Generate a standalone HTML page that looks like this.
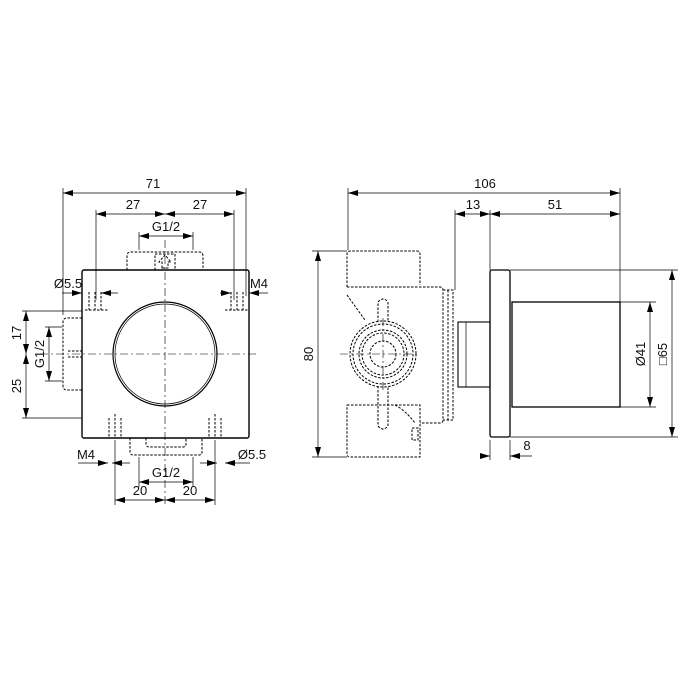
<!DOCTYPE html>
<html><head><meta charset="utf-8"><style>
html,body{margin:0;padding:0;background:#fff;}
svg{display:block}
text{font-family:"Liberation Sans",sans-serif;font-size:13px;fill:#111}
</style></head><body>
<svg width="700" height="700" viewBox="0 0 700 700" xmlns="http://www.w3.org/2000/svg">
<defs>
<marker id="a" viewBox="0 0 10 6" refX="10" refY="3" markerWidth="10" markerHeight="6" orient="auto-start-reverse" markerUnits="userSpaceOnUse"><path d="M0,0L10,3L0,6z" fill="#000"/></marker>
</defs>
<g stroke="#000" fill="none">
<g stroke-width="0.7">
<line x1="63" y1="188" x2="63" y2="315"/>
<line x1="246" y1="188" x2="246" y2="296"/>
<line x1="96" y1="210" x2="96" y2="300"/>
<line x1="234" y1="210" x2="234" y2="300"/>
<line x1="139" y1="232" x2="139" y2="250"/>
<line x1="193" y1="232" x2="193" y2="250"/>
<line x1="22" y1="311" x2="82" y2="311"/>
<line x1="22" y1="418" x2="82" y2="418"/>
<line x1="45" y1="327" x2="62" y2="327"/>
<line x1="45" y1="381" x2="62" y2="381"/>
<line x1="115" y1="440" x2="115" y2="505"/>
<line x1="215" y1="440" x2="215" y2="505"/>
<line x1="139" y1="457" x2="139" y2="487"/>
<line x1="193" y1="457" x2="193" y2="487"/>
<line x1="63" y1="193" x2="246" y2="193" marker-start="url(#a)" marker-end="url(#a)"/>
<line x1="96" y1="214" x2="165" y2="214" marker-start="url(#a)" marker-end="url(#a)"/>
<line x1="165" y1="214" x2="234" y2="214" marker-start="url(#a)" marker-end="url(#a)"/>
<line x1="139" y1="236" x2="193" y2="236" marker-start="url(#a)" marker-end="url(#a)"/>
<line x1="26" y1="311" x2="26" y2="354" marker-start="url(#a)" marker-end="url(#a)"/>
<line x1="26" y1="354" x2="26" y2="418" marker-start="url(#a)" marker-end="url(#a)"/>
<line x1="49" y1="327" x2="49" y2="381" marker-start="url(#a)" marker-end="url(#a)"/>
<line x1="139" y1="482" x2="193" y2="482" marker-start="url(#a)" marker-end="url(#a)"/>
<line x1="115" y1="500" x2="165" y2="500" marker-start="url(#a)" marker-end="url(#a)"/>
<line x1="165" y1="500" x2="215" y2="500" marker-start="url(#a)" marker-end="url(#a)"/>
<line x1="62" y1="293" x2="82" y2="293" marker-end="url(#a)"/>
<line x1="118" y1="293" x2="101" y2="293" marker-end="url(#a)"/>
<line x1="220" y1="293" x2="231" y2="293" marker-end="url(#a)"/>
<line x1="268" y1="293" x2="249" y2="293" marker-end="url(#a)"/>
<line x1="78" y1="463" x2="108" y2="463" marker-end="url(#a)"/>
<line x1="130" y1="463" x2="112" y2="463" marker-end="url(#a)"/>
<line x1="200" y1="463" x2="217" y2="463" marker-end="url(#a)"/>
<line x1="250" y1="463" x2="225" y2="463" marker-end="url(#a)"/>
</g>
<g stroke-width="0.6" stroke-dasharray="8,3,2,3">
<line x1="165" y1="240" x2="165" y2="505"/>
<line x1="40" y1="354" x2="258" y2="354"/>
</g>
<g stroke-width="1" stroke-dasharray="2.5,1.5">
<line x1="89" y1="292" x2="89" y2="310"/><line x1="95" y1="292" x2="95" y2="310"/><line x1="101" y1="292" x2="101" y2="310"/>
<line x1="231" y1="292" x2="231" y2="310"/><line x1="237" y1="292" x2="237" y2="310"/><line x1="243" y1="292" x2="243" y2="310"/>
<line x1="109" y1="418" x2="109" y2="438"/><line x1="115" y1="414" x2="115" y2="438"/><line x1="121" y1="418" x2="121" y2="438"/>
<line x1="209" y1="418" x2="209" y2="438"/><line x1="215" y1="414" x2="215" y2="438"/><line x1="221" y1="418" x2="221" y2="438"/>
<line x1="85" y1="310" x2="108" y2="310"/><line x1="225" y1="310" x2="248" y2="310"/>
<path d="M127,270V256q0-4 4-4h68q4 0 4 4v14"/>
<path d="M155,270V254h20v16"/>
<path d="M162,268v-6h-3l6-7l6,7h-3v6z"/>
<path d="M82,318H67q-4 0-4 4v64q0 4 4 4h15"/>
<line x1="68" y1="351" x2="82" y2="351"/><line x1="68" y1="357" x2="82" y2="357"/>
<path d="M130,438v14q0 3 3 3h66q3 0 3-3v-14"/>
<path d="M146,438v6q0 3 3 3h34q3 0 3-3v-6"/>
</g>
<rect x="82" y="270" width="167" height="168" rx="2" stroke-width="1.4"/>
<circle cx="165" cy="354" r="52" stroke-width="1.2"/>
<circle cx="165" cy="354" r="50" stroke-width="0.7"/>

<g stroke-width="0.7">
<line x1="348" y1="188" x2="348" y2="250"/>
<line x1="620" y1="188" x2="620" y2="302"/>
<line x1="455" y1="210" x2="455" y2="290"/>
<line x1="490" y1="210" x2="490" y2="270"/>
<line x1="312" y1="251" x2="347" y2="251"/>
<line x1="312" y1="457" x2="347" y2="457"/>
<line x1="620" y1="302" x2="656" y2="302"/>
<line x1="620" y1="407" x2="656" y2="407"/>
<line x1="510" y1="270" x2="678" y2="270"/>
<line x1="510" y1="437" x2="678" y2="437"/>
<line x1="490" y1="440" x2="490" y2="460"/>
<line x1="510" y1="440" x2="510" y2="460"/>
<line x1="348" y1="193" x2="620" y2="193" marker-start="url(#a)" marker-end="url(#a)"/>
<line x1="455" y1="214" x2="490" y2="214" marker-start="url(#a)" marker-end="url(#a)"/>
<line x1="490" y1="214" x2="620" y2="214" marker-start="url(#a)" marker-end="url(#a)"/>
<line x1="318" y1="251" x2="318" y2="457" marker-start="url(#a)" marker-end="url(#a)"/>
<line x1="650" y1="302" x2="650" y2="407" marker-start="url(#a)" marker-end="url(#a)"/>
<line x1="672" y1="270" x2="672" y2="437" marker-start="url(#a)" marker-end="url(#a)"/>
<line x1="480" y1="456" x2="490" y2="456" marker-end="url(#a)"/>
<line x1="532" y1="456" x2="510" y2="456" marker-end="url(#a)"/>
</g>
<g stroke-width="0.6" stroke-dasharray="8,3,2,3">
<line x1="340" y1="354" x2="420" y2="354"/>
<line x1="383" y1="318" x2="383" y2="390"/>
</g>
<g stroke-width="1" stroke-dasharray="2.5,1.5">
<path d="M347,287V254q0-3 3-3h67q3 0 3 3v31"/>
<path d="M347,287H440q3 0 3 3v130q0 3-3 3H420"/>
<path d="M443,290h10v130h-10"/>
<line x1="448" y1="290" x2="448" y2="420"/>
<path d="M347,295l18,25"/>
<path d="M347,405h73v52H350q-3 0-3-3z"/>
<circle cx="383" cy="354" r="33"/>
<circle cx="383" cy="354" r="30"/>
<circle cx="383" cy="354" r="24"/>
<circle cx="383" cy="354" r="21"/>
<circle cx="383" cy="354" r="13"/>
<path d="M378,322V302q5-6 10 0v20"/>
<path d="M378,386v40q5 6 10 0v-40"/>
<path d="M395,405q10 5 20 18"/>
<path d="M412,428h6v12h-6z"/>
</g>
<rect x="458" y="322" width="32" height="65" stroke-width="1.1"/>
<line x1="466" y1="322" x2="466" y2="387" stroke-width="0.7"/>
<rect x="490" y="270" width="20" height="167" rx="2" stroke-width="1.3"/>
<rect x="512" y="302" width="108" height="105" stroke-width="1.3"/>
</g>
<text x="153" y="188" text-anchor="middle">71</text>
<text x="133" y="209" text-anchor="middle">27</text>
<text x="200" y="209" text-anchor="middle">27</text>
<text x="166" y="231" text-anchor="middle">G1/2</text>
<text x="68" y="288" text-anchor="middle">Ø5.5</text>
<text x="259" y="288" text-anchor="middle">M4</text>
<text x="86" y="459" text-anchor="middle">M4</text>
<text x="252" y="459" text-anchor="middle">Ø5.5</text>
<text x="166" y="477" text-anchor="middle">G1/2</text>
<text x="140" y="495" text-anchor="middle">20</text>
<text x="190" y="495" text-anchor="middle">20</text>
<text transform="translate(21,333) rotate(-90)" text-anchor="middle">17</text>
<text transform="translate(21,386) rotate(-90)" text-anchor="middle">25</text>
<text transform="translate(44,354) rotate(-90)" text-anchor="middle">G1/2</text>
<text x="485" y="188" text-anchor="middle">106</text>
<text x="473" y="209" text-anchor="middle">13</text>
<text x="555" y="209" text-anchor="middle">51</text>
<text transform="translate(313,354) rotate(-90)" text-anchor="middle">80</text>
<text transform="translate(645,354) rotate(-90)" text-anchor="middle">Ø41</text>
<text transform="translate(667,354) rotate(-90)" text-anchor="middle">□65</text>
<text x="527" y="450" text-anchor="middle">8</text>
</svg>
</body></html>
